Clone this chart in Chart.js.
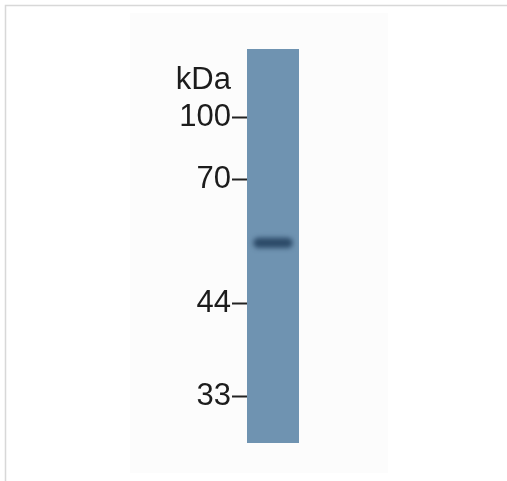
<!DOCTYPE html>
<html><head><meta charset="utf-8">
<script src="https://cdn.jsdelivr.net/npm/chart.js@4"></script>
<style>html,body{margin:0;padding:0;background:#fff}#wrap{width:507px;height:481px;position:relative}</style>
</head><body><div id="wrap"><canvas id="c"></canvas></div>
<script>
// Lane and marker data (relative migration: 0 = top of lane, 1 = bottom)
const lanes = ['Lane 1'];
const markerLabels = ['kDa', '100', '70', '44', '33'];
const markerMigration = [0.079, 0.175, 0.332, 0.645, 0.883];
const bandCenters = [0.492];
const bandHalfWidth = 0.013;

const laneColor = '#6f93b1';
const bandColor = '#2c4a68';

const bgPlugin = {
  id: 'bg',
  beforeDraw(chart) {
    const ctx = chart.ctx;
    ctx.save();
    ctx.fillStyle = '#ffffff';
    ctx.fillRect(0, 0, chart.width, chart.height);
    ctx.fillStyle = '#fcfcfc';
    ctx.fillRect(130, 13, 258, 460);
    ctx.strokeStyle = '#d8d8d8';
    ctx.lineWidth = 1.5;
    ctx.beginPath();
    ctx.moveTo(5.5, chart.height);
    ctx.lineTo(5.5, 5.5);
    ctx.lineTo(chart.width, 5.5);
    ctx.stroke();
    ctx.restore();
  },
  beforeDatasetDraw(chart, args) {
    if (args.index === 1) { chart.ctx.save(); chart.ctx.filter = 'blur(2.5px)'; }
  },
  afterDatasetDraw(chart, args) {
    if (args.index === 1) { chart.ctx.restore(); }
  }
};

new Chart(document.getElementById('c'), {
  type: 'bar',
  data: {
    labels: lanes,
    datasets: [
      { data: lanes.map(() => [0, 1]), backgroundColor: laneColor, barPercentage: 1, categoryPercentage: 1, grouped: false, order: 2 },
      { data: bandCenters.map(b => [b - bandHalfWidth, b + bandHalfWidth]), backgroundColor: bandColor, barPercentage: 0.76, categoryPercentage: 1, grouped: false, borderRadius: 8, borderSkipped: false, order: 1 }
    ]
  },
  plugins: [bgPlugin],
  options: {
    responsive: true, maintainAspectRatio: false, animation: false,
    layout: { padding: { left: 0, right: 208, top: 49, bottom: 38 } },
    plugins: { legend: { display: false }, tooltip: { enabled: false } },
    scales: {
      x: { display: false },
      y: {
        reverse: true, min: 0, max: 1,
        border: { display: false },
        afterFit(s) { s.width = 247; },
        afterBuildTicks(s) { s.ticks = markerMigration.map(v => ({ value: v })); },
        ticks: {
          callback: (v, i) => markerLabels[i],
          color: '#1c1c1c', padding: 1,
          font: { family: 'Liberation Sans, Arial, sans-serif', size: 31 }
        },
        grid: {
          drawOnChartArea: false, tickLength: 15, tickWidth: 2,
          tickColor: (c) => c.index === 0 ? 'rgba(0,0,0,0)' : '#222'
        }
      }
    }
  }
});
</script></body></html>
